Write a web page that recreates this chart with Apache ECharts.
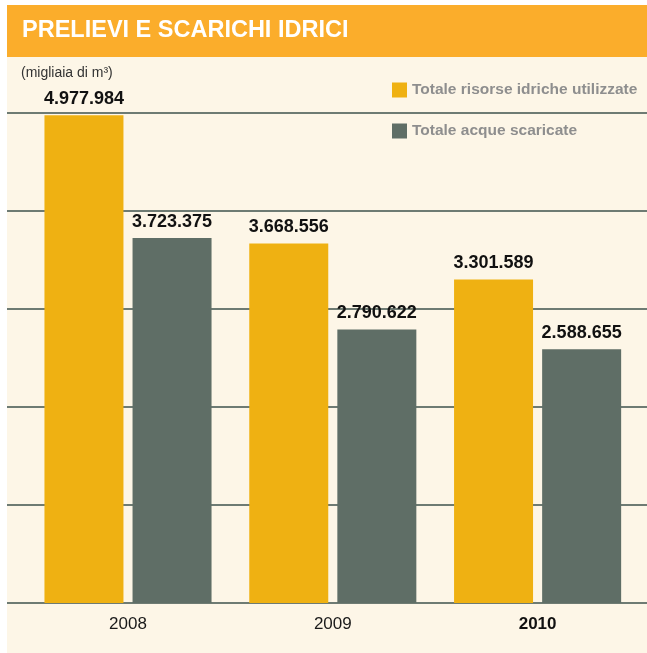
<!DOCTYPE html>
<html>
<head>
<meta charset="utf-8">
<script src="https://cdn.jsdelivr.net/npm/echarts@6/dist/echarts.min.js"></script>
<style>
  html, body { margin: 0; padding: 0; background: #ffffff; }
  #chart { width: 647px; height: 653px; }
</style>
</head>
<body>
<div id="chart"></div>
<script>
// Years on the category axis
const years = ['2008', '2009', '2010'];
// Water volumes, thousands of cubic metres
const risorseUtilizzate = [4977984, 3668556, 3301589];
const acqueScaricate = [3723375, 2790622, 2588655];
// Value axis range and step
const yMin = 0;
const yMax = 5000000;
const yStep = 1000000;

const seriesNames = ['Totale risorse idriche utilizzate', 'Totale acque scaricate'];

// Italian thousands separator
function fmt(v) {
  return String(v).replace(/\B(?=(\d{3})+(?!\d))/g, '.');
}

const chart = echarts.init(document.getElementById('chart'), null, { renderer: 'canvas' });

const labelStyle = {
  show: true,
  position: 'top',
  distance: 7,
  color: '#111111',
  fontFamily: 'Liberation Sans, Arial, sans-serif',
  fontWeight: 'bold',
  fontSize: 18,
  formatter: p => fmt(p.value)
};

chart.setOption({
  backgroundColor: '#ffffff',
  animation: false,
  textStyle: { fontFamily: 'Liberation Sans, Arial, sans-serif' },
  graphic: [
    { type: 'rect', z: -10, shape: { x: 7, y: 5, width: 640, height: 648 }, style: { fill: '#fdf6e7' } },
    { type: 'rect', z: -9, shape: { x: 7, y: 5, width: 640, height: 52 }, style: { fill: '#fbad2b' } },
    {
      type: 'text', left: 22, top: 19, z: 5,
      style: { text: 'PRELIEVI E SCARICHI IDRICI', fill: '#ffffff', font: 'bold 23.5px "Liberation Sans", Arial, sans-serif' }
    },
    {
      type: 'text', left: 21, top: 66, z: 5,
      style: { text: '(migliaia di m³)', fill: '#333333', font: '14px "Liberation Sans", Arial, sans-serif' }
    }
  ],
  legend: {
    orient: 'vertical',
    left: 392,
    top: 82,
    padding: 0,
    itemWidth: 15,
    itemHeight: 15,
    itemGap: 25,
    icon: 'rect',
    selectedMode: false,
    data: seriesNames,
    textStyle: { color: '#8e8e8e', fontSize: 15.5, fontWeight: 'bold', fontFamily: 'Liberation Sans, Arial, sans-serif' }
  },
  grid: [
    { left: 7, right: 0, top: 113, bottom: 50 },
    { left: 25.6, width: 614.4, top: 113, bottom: 50 }
  ],
  xAxis: [
    { type: 'value', gridIndex: 0, show: false, min: 0, max: 1 },
    {
      type: 'category', gridIndex: 1, data: years,
      axisLine: { show: false }, axisTick: { show: false },
      axisLabel: {
        margin: 13, color: '#1a1a1a', fontSize: 17,
        formatter: v => v === '2010' ? '{b|' + v + '}' : v,
        rich: { b: { fontWeight: 'bold', fontSize: 17, color: '#111111' } }
      }
    }
  ],
  yAxis: [
    {
      type: 'value', gridIndex: 0, min: yMin, max: yMax, interval: yStep,
      axisLine: { show: false }, axisTick: { show: false }, axisLabel: { show: false },
      splitLine: { show: true, lineStyle: { color: '#6e7b73', width: 2 } }
    },
    {
      type: 'value', gridIndex: 1, min: yMin, max: yMax, interval: yStep,
      show: false, splitLine: { show: false }
    }
  ],
  series: [
    {
      name: seriesNames[0], type: 'bar', xAxisIndex: 1, yAxisIndex: 1,
      data: risorseUtilizzate, barWidth: 79, barGap: '11.5%',
      itemStyle: { color: '#efb112' }, label: labelStyle
    },
    {
      name: seriesNames[1], type: 'bar', xAxisIndex: 1, yAxisIndex: 1,
      data: acqueScaricate, barWidth: 79, barGap: '11.5%',
      itemStyle: { color: '#5f6e66' }, label: labelStyle
    }
  ]
});
</script>
</body>
</html>
